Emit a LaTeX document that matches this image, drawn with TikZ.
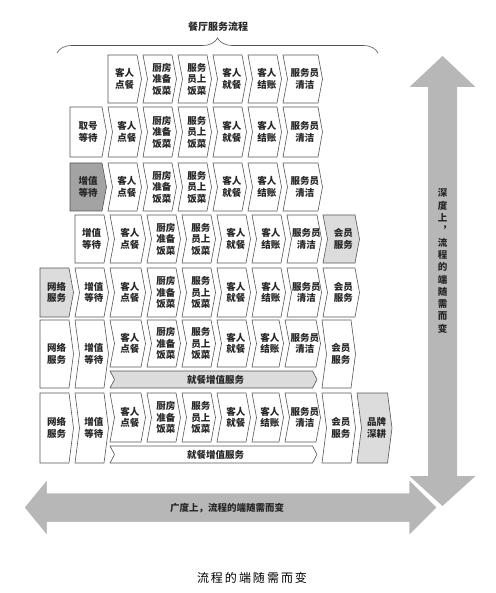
\documentclass[tikz,border=0pt]{standalone}
\usepackage{fontspec}
\setmainfont{Noto Sans CJK SC}
\usetikzlibrary{decorations.pathreplacing}
\definecolor{darkcell}{HTML}{A3A3A3}
\definecolor{lightcell}{HTML}{DCDCDC}
\definecolor{arrowgray}{HTML}{B7B7B7}
\definecolor{edgegray}{HTML}{555555}
\tikzset{
  cellline/.style={draw=edgegray, line width=0.6pt, line join=miter},
  txt/.style={font=\fontsize{9.5}{11.5}\selectfont\bfseries, align=center, inner sep=0pt, text=black!85},
  bigarrow/.style={fill=arrowgray, draw=white, line width=2.5pt, line join=miter},
  arrowtxt/.style={font=\fontsize{9.5}{12.3}\selectfont\bfseries, align=center, inner sep=0pt, text=black!85},
}
\def\chgap{1.5}
\def\chdep{4.5}
% name, x0, xnext, ytop, ybot, notch(0/1), fill, text
\newcommand\cb[8]{%
  \draw[cellline, fill=#7] (#2,#4) -- ({#3-\chgap-\chdep},#4) -- ({#3-\chgap},{(#4+#5)/2}) -- ({#3-\chgap-\chdep},#5) -- (#2,#5) -- ({#2+#6*\chdep},{(#4+#5)/2}) -- cycle;
  \node[txt] (#1) at ({(#2+#3+#6*\chdep-\chgap-\chdep/2)/2+1},{(#4+#5)/2}) {#8};}
\begin{document}
\begin{tikzpicture}[x=1pt,y=-1pt]
\useasboundingbox (0,0) rectangle (495,593);
% title and brace
\node[font=\fontsize{10}{12}\selectfont\bfseries, text=black!85] (title) at (218,27) {餐厅服务流程};
\draw[decorate, decoration={brace, amplitude=15pt}, line width=0.6pt, draw=edgegray] (57,53) -- (378,53);
% big arrows
\draw[bigarrow, draw=none] (442.5,56) -- (475.5,87) -- (457,87) -- (457,476) -- (475.5,476) -- (442.5,506) -- (409.5,476) -- (428,476) -- (428,87) -- (409.5,87) -- cycle;
\draw[bigarrow] (23,507.5) -- (48,477) -- (48,492) -- (408,492) -- (408,477) -- (438.5,507.5) -- (408,538) -- (408,523) -- (48,523) -- (48,538) -- cycle;
\node[arrowtxt] (vtxt) at (442.5,261) {深\\度\\上\\︐\\流\\程\\的\\端\\随\\需\\而\\变};
\node[arrowtxt] (htxt) at (227,508) {广度上，流程的端随需而变};
\node[font=\fontsize{12}{14}\selectfont, text=black] (caption) at (252,578) {流\,程\,的\,端\,随\,需\,而\,变};
% row 1
\cb{ra1}{108}{143}{55}{103}{0}{white}{客人\\点餐}
\cb{ra2}{143}{178}{55}{103}{1}{white}{厨房\\准备\\饭菜}
\cb{ra3}{178}{213}{55}{103}{1}{white}{服务\\员上\\饭菜}
\cb{ra4}{213}{248}{55}{103}{1}{white}{客人\\就餐}
\cb{ra5}{248}{283}{55}{103}{1}{white}{客人\\结账}
\cb{ra6}{283}{324}{55}{103}{1}{white}{服务员\\清洁}
% row 2
\cb{rb0}{70}{108}{107}{157}{0}{white}{取号\\等待}
\cb{rb1}{108}{143}{107}{157}{1}{white}{客人\\点餐}
\cb{rb2}{143}{178}{107}{157}{1}{white}{厨房\\准备\\饭菜}
\cb{rb3}{178}{213}{107}{157}{1}{white}{服务\\员上\\饭菜}
\cb{rb4}{213}{248}{107}{157}{1}{white}{客人\\就餐}
\cb{rb5}{248}{283}{107}{157}{1}{white}{客人\\结账}
\cb{rb6}{283}{324}{107}{157}{1}{white}{服务员\\清洁}
% row 3
\cb{rc0}{70}{108}{163}{211}{0}{darkcell}{增值\\等待}
\cb{rc1}{108}{143}{163}{211}{1}{white}{客人\\点餐}
\cb{rc2}{143}{178}{163}{211}{1}{white}{厨房\\准备\\饭菜}
\cb{rc3}{178}{213}{163}{211}{1}{white}{服务\\员上\\饭菜}
\cb{rc4}{213}{248}{163}{211}{1}{white}{客人\\就餐}
\cb{rc5}{248}{283}{163}{211}{1}{white}{客人\\结账}
\cb{rc6}{283}{324}{163}{211}{1}{white}{服务员\\清洁}
% row 4
\cb{rd0}{75}{110}{215}{263}{0}{white}{增值\\等待}
\cb{rd1}{110}{147}{215}{263}{1}{white}{客人\\点餐}
\cb{rd2}{147}{182}{215}{263}{1}{white}{厨房\\准备\\饭菜}
\cb{rd3}{182}{217}{215}{263}{1}{white}{服务\\员上\\饭菜}
\cb{rd4}{217}{252}{215}{263}{1}{white}{客人\\就餐}
\cb{rd5}{252}{287}{215}{263}{1}{white}{客人\\结账}
\cb{rd6}{287}{323}{215}{263}{1}{white}{服务员\\清洁}
\cb{rd7}{323}{361}{215}{263}{1}{lightcell}{会员\\服务}
% row 5
\cb{re0}{40}{75}{268}{317}{0}{lightcell}{网络\\服务}
\cb{re1}{75}{110}{268}{317}{1}{white}{增值\\等待}
\cb{re2}{110}{147}{268}{317}{1}{white}{客人\\点餐}
\cb{re3}{147}{182}{268}{317}{1}{white}{厨房\\准备\\饭菜}
\cb{re4}{182}{217}{268}{317}{1}{white}{服务\\员上\\饭菜}
\cb{re5}{217}{252}{268}{317}{1}{white}{客人\\就餐}
\cb{re6}{252}{287}{268}{317}{1}{white}{客人\\结账}
\cb{re7}{287}{323}{268}{317}{1}{white}{服务员\\清洁}
\cb{re8}{323}{361}{268}{317}{1}{white}{会员\\服务}
% row 6
\cb{rf0}{40}{75}{320}{388}{0}{white}{网络\\服务}
\cb{rf1}{75}{110}{320}{388}{1}{white}{增值\\等待}
\cb{rf2}{110}{147}{320}{367}{1}{white}{客人\\点餐}
\cb{rf3}{147}{182}{320}{367}{1}{white}{厨房\\准备\\饭菜}
\cb{rf4}{182}{217}{320}{367}{1}{white}{服务\\员上\\饭菜}
\cb{rf5}{217}{252}{320}{367}{1}{white}{客人\\就餐}
\cb{rf6}{252}{285}{320}{367}{1}{white}{客人\\结账}
\cb{rf7}{285}{322}{320}{367}{1}{white}{服务员\\清洁}
\cb{rf8}{322}{357}{320}{388}{1}{white}{会员\\服务}
\cb{rfbar}{110}{318.5}{371}{388}{1}{lightcell}{就餐增值服务}
% row 7
\cb{rg0}{40}{75}{393}{463}{0}{white}{网络\\服务}
\cb{rg1}{75}{110}{393}{463}{1}{white}{增值\\等待}
\cb{rg2}{110}{147}{393}{442}{1}{white}{客人\\点餐}
\cb{rg3}{147}{182}{393}{442}{1}{white}{厨房\\准备\\饭菜}
\cb{rg4}{182}{217}{393}{442}{1}{white}{服务\\员上\\饭菜}
\cb{rg5}{217}{252}{393}{442}{1}{white}{客人\\就餐}
\cb{rg6}{252}{285}{393}{442}{1}{white}{客人\\结账}
\cb{rg7}{285}{322}{393}{442}{1}{white}{服务员\\清洁}
\cb{rg8}{322}{357}{393}{463}{1}{white}{会员\\服务}
\cb{rg9}{357}{393.5}{393}{463}{1}{lightcell}{品牌\\深耕}
\cb{rgbar}{110}{318.5}{446}{463}{1}{white}{就餐增值服务}
\end{tikzpicture}
\end{document}
